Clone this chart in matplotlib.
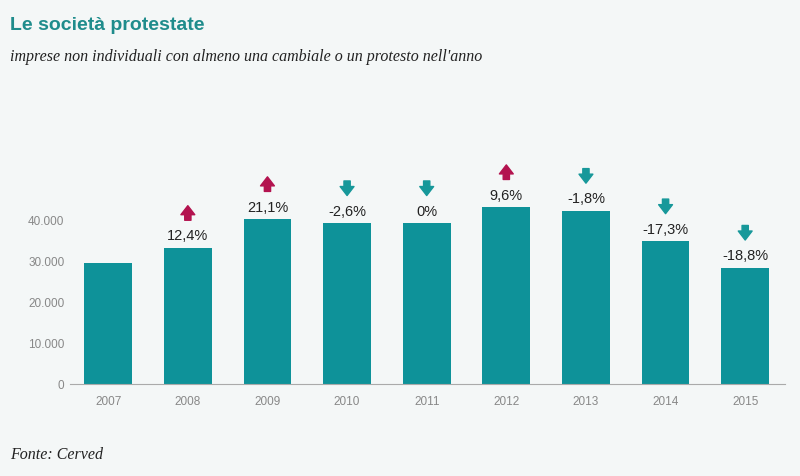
import matplotlib.pyplot as plt
from matplotlib.transforms import offset_copy

plt.rcParams['font.family'] = ['Liberation Sans', 'DejaVu Sans']

# Data
anni = ['2007', '2008', '2009', '2010', '2011', '2012', '2013', '2014', '2015']
societa = [29400, 33000, 40000, 39000, 39000, 42900, 42000, 34600, 28200]
variazioni = ['', '12,4%', '21,1%', '-2,6%', '0%', '9,6%', '-1,8%', '-17,3%', '-18,8%']
direzione = [0, 1, 1, -1, -1, 1, -1, -1, -1]
y_ticks = [0, 10000, 20000, 30000, 40000]
y_labels = ['0', '10.000', '20.000', '30.000', '40.000']

bg = '#f4f7f7'
teal = '#0e9299'
up_col = '#b3134f'
down_col = '#17989a'

fig = plt.figure(figsize=(8, 4.77), dpi=100, facecolor=bg)
ax = fig.add_axes([70/800, 1-385/477, 715/800, 206/477], facecolor=bg)

x = range(len(anni))
ax.bar(x, societa, width=0.6, color=teal, zorder=2)

ax.set_xlim(-0.48, 8.5)
ax.set_ylim(0, 50000)
ax.set_yticks(y_ticks)
ax.set_yticklabels(y_labels)
ax.set_xticks(list(x))
ax.set_xticklabels(anni)
ax.tick_params(axis='both', colors='#888888', labelsize=8.5, length=0, pad=8)
ax.tick_params(axis='y', pad=4)
for s in ['top', 'right', 'left']:
    ax.spines[s].set_visible(False)
ax.spines['bottom'].set_color('#aaaaaa')

# Percent labels and arrows
lo = offset_copy(ax.transData, fig=fig, x=0, y=20, units='points')
hi = offset_copy(ax.transData, fig=fig, x=0, y=30.5, units='points')
for i, (v, lab, d) in enumerate(zip(societa, variazioni, direzione)):
    if d == 0:
        continue
    ax.annotate(lab, (i, v), xytext=(0, 4), textcoords='offset points',
                ha='center', va='bottom', fontsize=10.5, color='#222222')
    col = up_col if d > 0 else down_col
    tip, tail = (hi, lo) if d > 0 else (lo, hi)
    ax.annotate('', xy=(i, v), xycoords=tip, xytext=(i, v), textcoords=tail,
                arrowprops=dict(arrowstyle='simple,head_length=0.65,head_width=1.0,tail_width=0.45',
                                color=col, shrinkA=0, shrinkB=0),
                annotation_clip=False)

fig.text(10/800, 1-25/477, 'Le società protestate', fontsize=14, fontweight='bold',
         color='#1f8c8c', va='center')
fig.text(10/800, 1-57/477, "imprese non individuali con almeno una cambiale o un protesto nell'anno",
         fontsize=11.5, style='italic', family='Liberation Serif', color='#222222', va='center')
fig.text(10/800, 1-455/477, 'Fonte: Cerved', fontsize=11.5, style='italic',
         family='Liberation Serif', color='#222222', va='center')

fig.savefig('out.png', dpi=100, facecolor=bg)
